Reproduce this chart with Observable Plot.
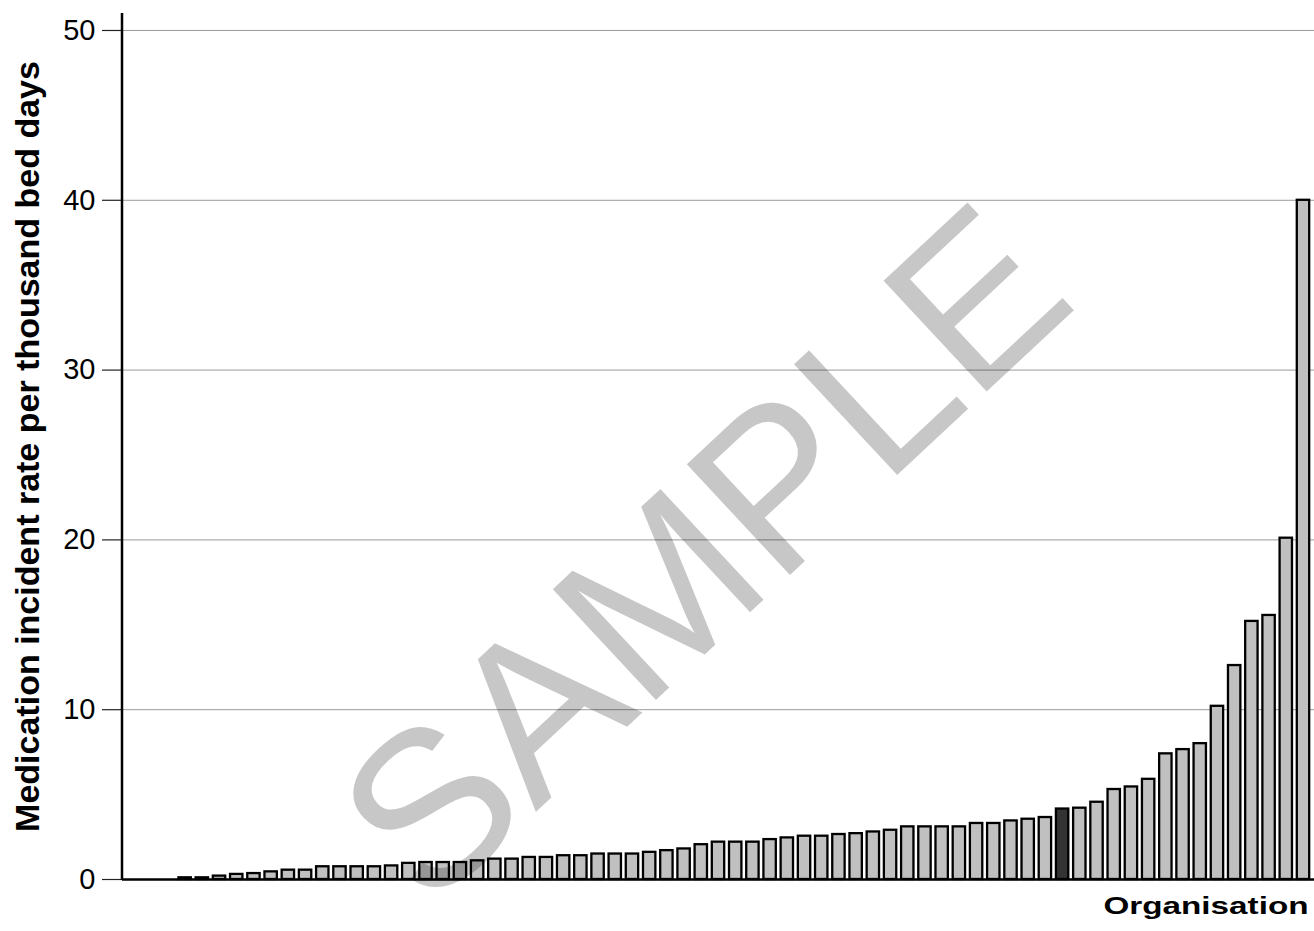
<!DOCTYPE html>
<html>
<head>
<meta charset="utf-8">
<script src="https://cdn.jsdelivr.net/npm/d3@7"></script>
<script src="https://cdn.jsdelivr.net/npm/@observablehq/plot@0.6"></script>
<style>
  body { margin: 0; background: #ffffff; }
  #chart svg { display: block; }
</style>
</head>
<body>
<div id="chart"></div>
<script>
// Medication incident rate per thousand bed days, one bar per organisation (sorted ascending)
const rates = [
  0, 0, 0,
  0.1, 0.1, 0.2, 0.3, 0.35, 0.45, 0.55, 0.55, 0.75, 0.75,
  0.75, 0.75, 0.8, 0.95, 1.0, 1.0, 1.0, 1.1, 1.2, 1.2,
  1.3, 1.3, 1.4, 1.4, 1.5, 1.5, 1.5, 1.6, 1.7, 1.8,
  2.05, 2.2, 2.2, 2.2, 2.35, 2.45, 2.55, 2.55, 2.65, 2.7,
  2.8, 2.9, 3.1, 3.1, 3.1, 3.1, 3.3, 3.3, 3.45, 3.55,
  3.65, 4.15, 4.2, 4.55, 5.3, 5.45, 5.9, 7.4, 7.65, 8.0,
  10.2, 12.6, 15.2, 15.55, 20.1, 40.0
];
const organisations = rates.map((_, i) => `Org ${i + 1}`);
const highlightedOrg = "Org 55";
const yTicks = [0, 10, 20, 30, 40, 50];
const yLabel = "Medication incident rate per thousand bed days";
const xLabel = "Organisation";
const watermark = "SAMPLE";

const data = organisations.map((org, i) => ({ org, rate: rates[i] }));

const yAxisLine = (index, scales, values, dims) => {
  const line = document.createElementNS("http://www.w3.org/2000/svg", "line");
  line.setAttribute("x1", dims.marginLeft);
  line.setAttribute("x2", dims.marginLeft);
  line.setAttribute("y1", dims.marginTop);
  line.setAttribute("y2", dims.height - dims.marginBottom + 1);
  line.setAttribute("stroke", "#000");
  line.setAttribute("stroke-width", 2.5);
  return line;
};

const chart = Plot.plot({
  width: 1314,
  height: 931,
  marginLeft: 122,
  marginRight: 0,
  marginTop: 13,
  marginBottom: 52,
  style: { fontFamily: "'Liberation Sans', Arial, sans-serif", fontSize: "29px", background: "#ffffff", overflow: "visible" },
  x: { type: "band", domain: organisations, padding: 0.28, round: false, axis: null },
  y: { domain: [0, 51], axis: null },
  marks: [
    Plot.ruleY(yTicks.slice(1), { stroke: "#9a9a9a", strokeWidth: 1 }),
    Plot.barY(data, {
      filter: d => d.org !== highlightedOrg,
      x: "org", y: "rate", fill: "#c0c0c0", stroke: "#000", strokeWidth: 2.3, strokeLinejoin: "miter"
    }),
    Plot.barY(data, {
      filter: d => d.org === highlightedOrg,
      x: "org", y: "rate", fill: "#333333", stroke: "#000", strokeWidth: 2.3, strokeLinejoin: "miter"
    }),
    Plot.axisY({ ticks: yTicks, tickSize: 20, tickPadding: 7, fontSize: 29, tickFormat: d => String(d), label: null, stroke: "#222", strokeWidth: 1.2 }),
    Plot.ruleY([0], { stroke: "#000", strokeWidth: 2.5 }),
    yAxisLine,
    Plot.text([yLabel], { frameAnchor: "left", textAnchor: "middle", rotate: -90, dx: -94, fontSize: 34, fontWeight: "bold", fill: "#000" }),
    Plot.text([xLabel], { frameAnchor: "bottom-right", textAnchor: "end", dx: -6, dy: 34, fontSize: 24, fontWeight: "bold", fill: "#000", className: "xlabel" }),
    Plot.text([watermark], { frameAnchor: "middle", textAnchor: "middle", rotate: -43, dx: -12, dy: 110, fontSize: 220, fill: "#000", fillOpacity: 0.22 })
  ]
});

document.getElementById("chart").appendChild(chart);
// Horizontally stretch the x label as in the reference
d3.select(chart).selectAll("g.xlabel text")
  .attr("textLength", 205)
  .attr("lengthAdjust", "spacingAndGlyphs");
</script>
</body>
</html>
